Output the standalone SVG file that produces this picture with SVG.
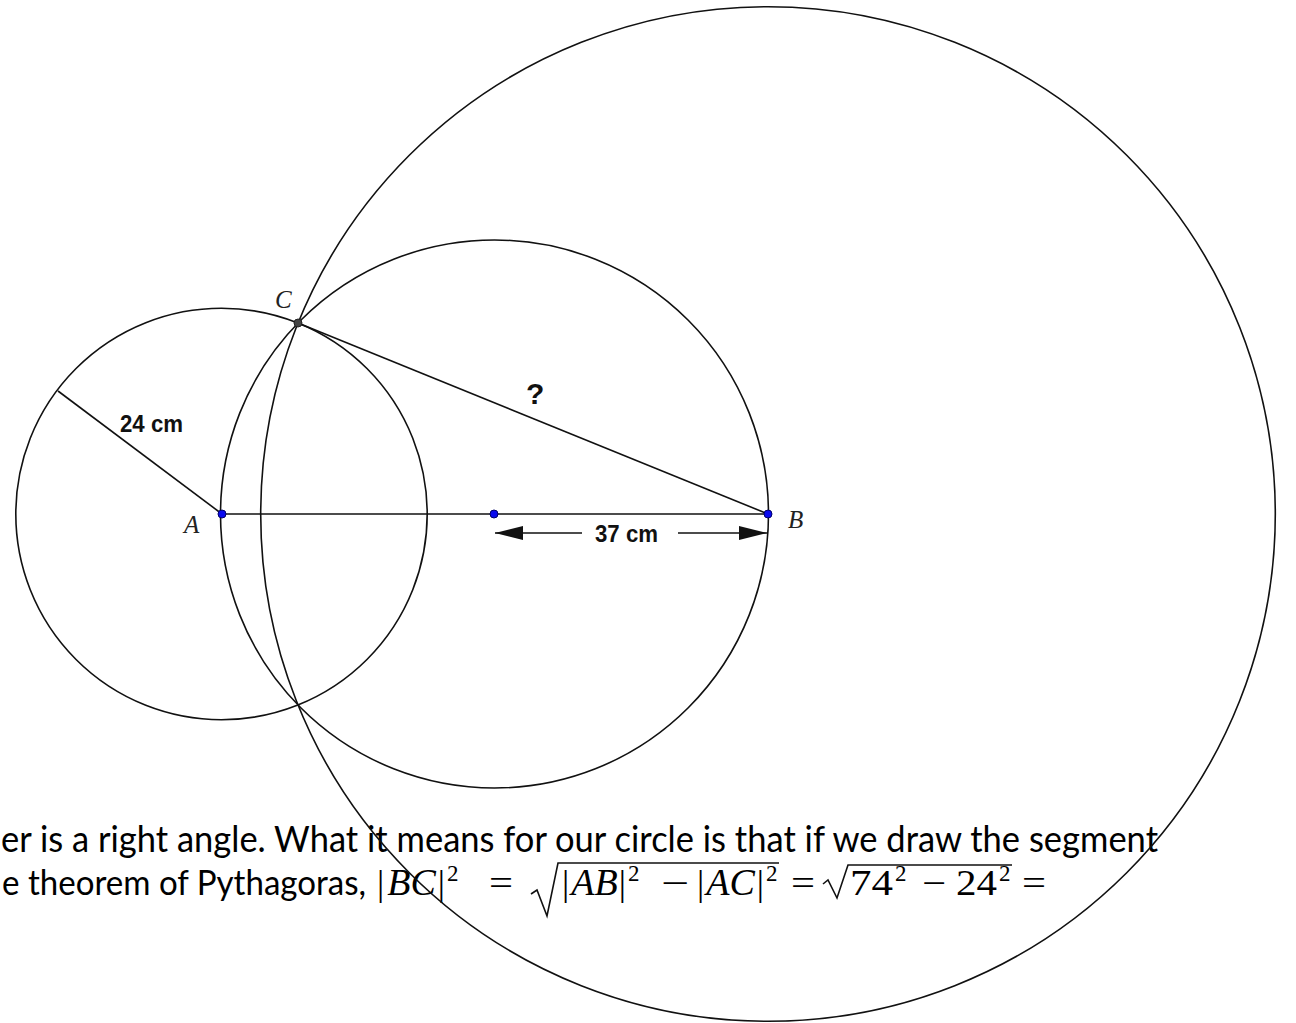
<svg xmlns="http://www.w3.org/2000/svg" width="1296" height="1023" viewBox="0 0 1296 1023">
<style>
.c{fill:none;stroke:#111;stroke-width:1.6}
.l{stroke:#111;stroke-width:1.6;fill:none}
.pt{fill:#0a0aee;stroke:#00006a;stroke-width:1}
.lab{font-family:"Liberation Serif",serif;font-style:italic;font-size:25px;fill:#222}
.dim{font-family:"Liberation Sans",Arial,sans-serif;font-weight:bold;font-size:23px;fill:#111}
.body{font-family:Lato,"Open Sans",sans-serif;font-size:36px;fill:#000}
.m{font-family:"Liberation Serif",serif;font-size:36px;fill:#000}
.mi{font-family:"Liberation Serif",serif;font-style:italic;font-size:38px}
.sup{font-family:"Liberation Serif",serif;font-size:23px;fill:#000}
</style>
<defs>
<marker id="ah" viewBox="0 0 28 14" refX="28" refY="7" markerWidth="28" markerHeight="14" markerUnits="userSpaceOnUse" orient="auto-start-reverse">
<path d="M0,0 L28,7 L0,14 Z" fill="#111"/>
</marker>
</defs>
<rect width="1296" height="1023" fill="#fff"/>

<g id="text">
<text class="body" x="1" y="852" textLength="1157" lengthAdjust="spacingAndGlyphs">er is a right angle. What it means for our circle is that if we draw the segment</text>
<text class="body" x="2" y="895" style="font-size:34px" textLength="364" lengthAdjust="spacingAndGlyphs">e theorem of Pythagoras,</text>
<g id="formula">
<text class="m" x="377" y="895">|<tspan class="mi" dx="3">BC</tspan><tspan dx="2">|</tspan><tspan class="sup" dx="2" dy="-14">2</tspan></text>
<text class="m" x="489" y="895" textLength="24" lengthAdjust="spacingAndGlyphs">=</text>
<path class="l" d="M531,894 L537,890 L547,916 L558,863 L779,863" stroke-width="1.8"/>
<text class="m" x="562" y="895">|<tspan class="mi" dx="2">AB</tspan><tspan dx="1">|</tspan><tspan class="sup" dx="2" dy="-14">2</tspan></text>
<text class="m" x="661" y="895" textLength="28" lengthAdjust="spacingAndGlyphs">−</text>
<text class="m" x="697" y="895">|<tspan class="mi" dx="2">AC</tspan><tspan dx="2">|</tspan><tspan class="sup" dx="2" dy="-14">2</tspan></text>
<text class="m" x="791" y="895" textLength="24" lengthAdjust="spacingAndGlyphs">=</text>
<path class="l" d="M823,884 L828,880 L837,898 L848,865 L1012,865" stroke-width="1.8"/>
<text class="m" x="850" y="895"><tspan textLength="43" lengthAdjust="spacingAndGlyphs">74</tspan><tspan class="sup" dx="2" dy="-14">2</tspan></text>
<text class="m" x="922" y="895" textLength="24" lengthAdjust="spacingAndGlyphs">−</text>
<text class="m" x="956" y="895"><tspan textLength="41" lengthAdjust="spacingAndGlyphs">24</tspan><tspan class="sup" dx="2" dy="-14">2</tspan></text>
<text class="m" x="1022" y="895" textLength="24" lengthAdjust="spacingAndGlyphs">=</text>
</g>
</g>

<g id="circle-A"><circle class="c" cx="221.5" cy="514" r="205.7"/></g>
<g id="circle-AB"><circle class="c" cx="494.5" cy="514" r="274"/></g>
<g id="circle-B"><circle class="c" cx="768" cy="514" r="507.3"/></g>

<g id="connectors">
<line class="l" x1="222" y1="514" x2="58" y2="391"/>
<line class="l" x1="222" y1="514" x2="768" y2="514"/>
<line class="l" x1="298" y1="323" x2="768" y2="514"/>
<line class="l" x1="495" y1="533" x2="582" y2="533" marker-start="url(#ah)"/>
<line class="l" x1="678" y1="533" x2="767" y2="533" marker-end="url(#ah)"/>
</g>

<g id="labels">
<text class="dim" x="120" y="432" textLength="63" lengthAdjust="spacingAndGlyphs">24 cm</text>
<text class="dim" x="595" y="542" textLength="63" lengthAdjust="spacingAndGlyphs">37 cm</text>
<text class="dim" x="526" y="404" style="font-size:30px">?</text>
</g>

<g id="point-A"><circle class="pt" cx="222" cy="514" r="4"/><text class="lab" x="184" y="533">A</text></g>
<g id="point-M"><circle class="pt" cx="494" cy="514" r="4"/></g>
<g id="point-B"><circle class="pt" cx="768" cy="514" r="4"/><text class="lab" x="788" y="528">B</text></g>
<g id="point-C"><circle cx="298" cy="323" r="4" fill="#444" stroke="#222" stroke-width="1"/><text class="lab" x="275" y="308">C</text></g>
</svg>
